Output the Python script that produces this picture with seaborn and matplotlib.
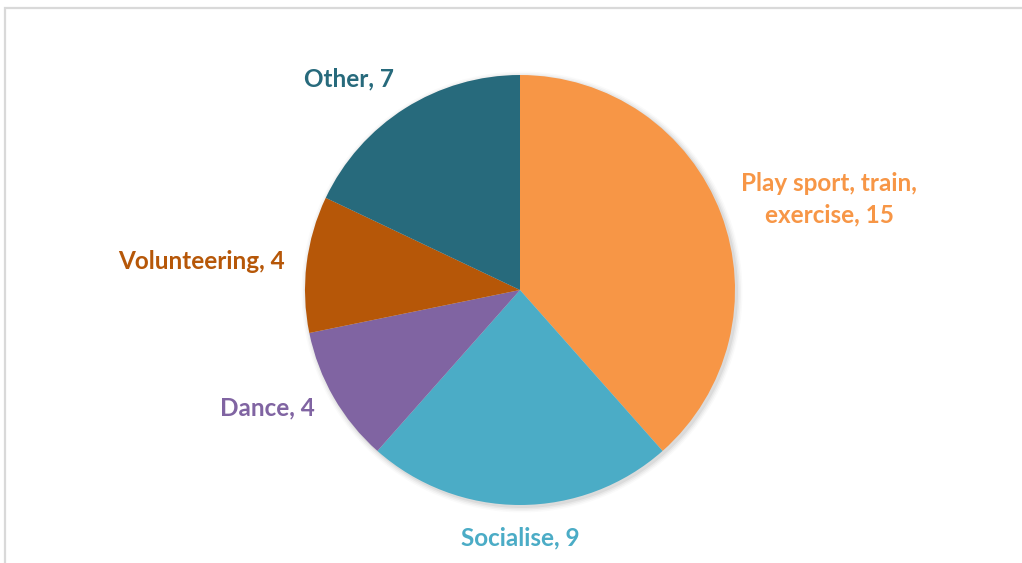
import numpy as np
import matplotlib
matplotlib.use("Agg")
import matplotlib.pyplot as plt
from matplotlib.patches import Rectangle, Circle
import seaborn as sns

# Activity counts
categories = ["Play sport, train,\nexercise", "Socialise", "Dance", "Volunteering", "Other"]
values = [15, 9, 4, 4, 7]
colors = ["#F79646", "#4BACC6", "#8064A2", "#B65708", "#276A7C"]

sns.set_theme(style="white")
plt.rcParams["font.family"] = ["Lato", "DejaVu Sans"]

W, H = 1022, 563
fig = plt.figure(figsize=(W / 100, H / 100), dpi=100)
fig.patch.set_facecolor("white")

# Light grey chart-area frame
fig.add_artist(Rectangle((5 / W, -0.01), 1.02, (H - 8) / H + 0.01,
                         transform=fig.transFigure, fill=False,
                         edgecolor="#d9d9d9", linewidth=1.6))

ax = fig.add_axes([0, 0, 1, 1])
ax.set_xlim(0, W)
ax.set_ylim(0, H)
ax.set_aspect("equal")
ax.axis("off")

cx, cy, r = 520, H - 290, 215

# Soft drop shadow behind the pie
for k, a in enumerate([0.05, 0.04, 0.03, 0.02]):
    ax.add_patch(Circle((cx + 2, cy - 2), r + 1 + k * 1.5, color="black",
                        alpha=a, lw=0, zorder=0))

wedges, _ = ax.pie(values, colors=colors, startangle=90, counterclock=False,
                   center=(cx, cy), radius=r, frame=True,
                   wedgeprops=dict(linewidth=0), normalize=True)
ax.set_xlim(0, W)
ax.set_ylim(0, H)
ax.axis("off")

# Outside-end labels, coloured like their slices
for w, cat, v, c in zip(wedges, categories, values, colors):
    mid = np.deg2rad((w.theta1 + w.theta2) / 2)
    cs, sn = np.cos(mid), np.sin(mid)
    x = cx + 1.1 * r * cs
    y = cy + 1.1 * r * sn
    ha = "left" if cs > 0.3 else ("right" if cs < -0.3 else "center")
    va = "bottom" if sn > 0.6 else ("top" if sn < -0.6 else "center")
    if "\n" in cat:
        y += 7  # two-line label sits a little higher
    ax.text(x, y, f"{cat}, {v}", color=c, fontsize=17.5, fontweight="bold",
            ha=ha, va=va, multialignment="center", linespacing=1.4)

fig.savefig("out.png", dpi=100, facecolor="white")
